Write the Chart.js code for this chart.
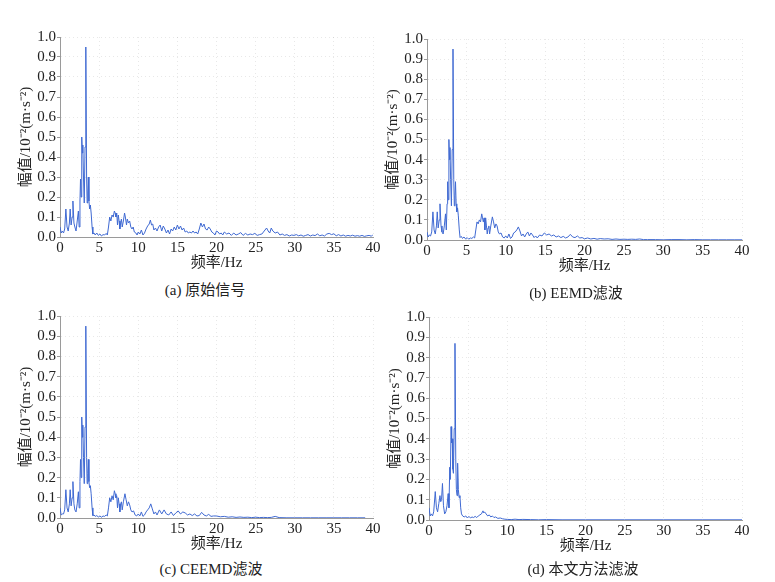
<!DOCTYPE html>
<html>
<head>
<meta charset="utf-8">
<script src="https://cdn.jsdelivr.net/npm/chart.js@4.4.1/dist/chart.umd.min.js"></script>
<style>
  html, body { margin: 0; padding: 0; background: #ffffff; }
  body { width: 775px; height: 582px; position: relative; overflow: hidden; }
  .box { position: absolute; }
  .cap { position: absolute; font-family: "Liberation Serif", "Noto Sans CJK SC", serif; font-size: 15px; color: #222; white-space: nowrap; transform: translate(-50%, -50%); }
</style>
</head>
<body>
<div class="box" id="boxA"><canvas id="cA"></canvas></div>
<div class="box" id="boxB"><canvas id="cB"></canvas></div>
<div class="box" id="boxC"><canvas id="cC"></canvas></div>
<div class="box" id="boxD"><canvas id="cD"></canvas></div>
<div class="cap" style="left:205px;top:288px;">(a) 原始信号</div>
<div class="cap" style="left:576px;top:291px;">(b) EEMD滤波</div>
<div class="cap" style="left:211px;top:567px;">(c) CEEMD滤波</div>
<div class="cap" style="left:583px;top:567px;">(d) 本文方法滤波</div>
<script>
// ---- tick labels / axis texts ----
const xTickValues = [0, 5, 10, 15, 20, 25, 30, 35, 40];
const yTickValues = [0.0, 0.1, 0.2, 0.3, 0.4, 0.5, 0.6, 0.7, 0.8, 0.9, 1.0];
const xAxisTitle = "频率/Hz";
const yAxisTitle = "幅值/10⁻²(m·s⁻²)";

// ---- (a) 原始信号 ----
const freqA = [0,0.15,0.3,0.45,0.6,0.75,0.9,1.05,1.2,1.3,1.42,1.55,1.65,1.78,1.9,2.05,2.2,2.35,2.45,2.55,2.62,2.7,2.78,2.86,2.92,3.0,3.1,3.2,3.3,3.4,3.47,3.55,3.62,3.7,3.78,3.88,3.98,4.1,4.2,4.35,4.5,4.7,4.9,5.1,5.3,5.5,5.7,5.9,6.05,6.2,6.35,6.5,6.65,6.8,6.95,7.05,7.15,7.25,7.35,7.45,7.55,7.65,7.75,7.85,7.95,8.1,8.25,8.35,8.5,8.6,8.75,8.9,9.05,9.2,9.35,9.5,9.7,9.85,10.0,10.2,10.4,10.6,10.8,11.0,11.2,11.4,11.55,11.7,11.85,12.0,12.2,12.4,12.6,12.8,13.0,13.2,13.4,13.6,13.8,14.0,14.2,14.4,14.6,14.8,15.0,15.2,15.4,15.6,15.8,16.0,16.2,16.4,16.6,16.8,17.0,17.2,17.4,17.6,17.8,18.0,18.2,18.4,18.6,18.8,19.0,19.2,19.4,19.6,19.8,20.0,20.2,20.4,20.6,20.8,21.0,21.3,21.6,21.9,22.2,22.5,22.8,23.1,23.4,23.7,24.0,24.3,24.6,24.9,25.2,25.5,25.8,26.1,26.4,26.6,26.8,27.0,27.2,27.5,27.8,28.1,28.4,28.7,29.0,29.3,29.6,29.9,30.2,30.5,30.8,31.1,31.4,31.7,32.0,32.3,32.6,32.9,33.2,33.5,33.8,34.1,34.4,34.7,35.0,35.3,35.6,35.9,36.2,36.5,36.8,37.1,37.4,37.7,38.0,38.3,38.6,38.9,39.2,39.5,39.8,40];
const ampA  = [0.05,0.02,0.03,0.02,0.04,0.14,0.05,0.03,0.07,0.14,0.06,0.10,0.18,0.07,0.05,0.03,0.08,0.13,0.05,0.18,0.29,0.20,0.50,0.42,0.46,0.30,0.17,0.45,0.95,0.30,0.17,0.22,0.30,0.18,0.14,0.16,0.12,0.05,0.015,0.02,0.01,0.02,0.008,0.015,0.005,0.012,0.01,0.018,0.01,0.05,0.10,0.08,0.11,0.10,0.13,0.12,0.10,0.12,0.06,0.11,0.08,0.04,0.07,0.09,0.05,0.08,0.12,0.10,0.06,0.09,0.07,0.08,0.05,0.04,0.05,0.025,0.02,0.01,0.025,0.015,0.035,0.01,0.02,0.04,0.055,0.065,0.085,0.06,0.065,0.035,0.045,0.03,0.05,0.06,0.03,0.055,0.04,0.02,0.035,0.015,0.04,0.03,0.05,0.035,0.06,0.04,0.055,0.035,0.045,0.025,0.03,0.02,0.025,0.02,0.03,0.02,0.025,0.015,0.04,0.07,0.05,0.065,0.04,0.035,0.05,0.04,0.025,0.02,0.01,0.03,0.025,0.015,0.02,0.01,0.025,0.015,0.02,0.008,0.02,0.01,0.015,0.022,0.008,0.018,0.01,0.015,0.012,0.018,0.008,0.012,0.015,0.03,0.045,0.03,0.02,0.045,0.03,0.02,0.025,0.01,0.015,0.008,0.012,0.005,0.01,0.008,0.012,0.006,0.01,0.004,0.008,0.012,0.005,0.01,0.007,0.015,0.006,0.01,0.005,0.015,0.018,0.012,0.016,0.006,0.012,0.005,0.01,0.004,0.008,0.005,0.009,0.004,0.007,0.004,0.008,0.003,0.006,0.008,0.004,0.012];

// ---- (b) EEMD滤波 ----
const freqB = [0,0.15,0.3,0.45,0.6,0.75,0.9,1.05,1.2,1.3,1.42,1.55,1.65,1.78,1.9,2.05,2.2,2.35,2.45,2.55,2.62,2.7,2.78,2.86,2.92,3.0,3.1,3.2,3.3,3.4,3.47,3.55,3.62,3.7,3.78,3.88,3.98,4.1,4.2,4.35,4.5,4.7,4.9,5.1,5.3,5.5,5.7,5.9,6.05,6.2,6.35,6.5,6.65,6.8,6.95,7.05,7.15,7.25,7.35,7.45,7.55,7.65,7.75,7.85,7.95,8.1,8.3,8.45,8.6,8.75,8.9,9.05,9.2,9.4,9.6,9.8,10.0,10.2,10.4,10.6,10.8,11.0,11.2,11.4,11.6,11.8,12.0,12.2,12.4,12.6,12.8,13.0,13.2,13.4,13.6,13.8,14.0,14.3,14.6,14.9,15.2,15.5,15.8,16.1,16.4,16.7,17.0,17.3,17.6,17.9,18.2,18.5,18.8,19.1,19.4,19.7,20.0,20.4,20.8,21.2,21.6,22.0,22.5,23.0,23.5,24.0,24.5,25.0,25.5,26.0,26.5,27.0,27.5,28.0,29.0,30.0,31.0,32.0,33.0,34.0,35.0,36.0,37.0,38.0,39.0,40];
const ampB  = [0.04,0.015,0.025,0.02,0.04,0.14,0.05,0.03,0.07,0.14,0.06,0.10,0.18,0.07,0.04,0.03,0.07,0.13,0.05,0.18,0.29,0.20,0.50,0.40,0.46,0.30,0.17,0.45,0.95,0.30,0.17,0.22,0.29,0.18,0.14,0.16,0.12,0.05,0.012,0.018,0.008,0.015,0.005,0.012,0.004,0.01,0.008,0.015,0.01,0.05,0.09,0.08,0.10,0.09,0.13,0.11,0.09,0.11,0.05,0.11,0.07,0.03,0.06,0.07,0.03,0.07,0.115,0.09,0.06,0.08,0.07,0.04,0.03,0.035,0.015,0.01,0.02,0.01,0.03,0.008,0.015,0.035,0.04,0.05,0.065,0.045,0.02,0.03,0.015,0.03,0.04,0.02,0.035,0.025,0.012,0.02,0.01,0.025,0.02,0.035,0.025,0.03,0.02,0.025,0.015,0.02,0.012,0.018,0.01,0.015,0.028,0.015,0.012,0.02,0.01,0.012,0.006,0.01,0.005,0.008,0.004,0.007,0.005,0.006,0.003,0.005,0.003,0.004,0.003,0.004,0.003,0.005,0.002,0.002,0.002,0.001,0.002,0.002,0.001,0.002,0.001,0.001,0.001,0.001,0.001,0.001];

// ---- (c) CEEMD滤波 ----
const freqC = [0,0.15,0.3,0.45,0.6,0.75,0.9,1.05,1.2,1.3,1.42,1.55,1.65,1.78,1.9,2.05,2.2,2.35,2.45,2.55,2.62,2.7,2.78,2.86,2.92,3.0,3.1,3.2,3.3,3.4,3.47,3.55,3.62,3.7,3.78,3.88,3.98,4.1,4.2,4.35,4.5,4.7,4.9,5.1,5.3,5.5,5.7,5.9,6.05,6.2,6.35,6.5,6.65,6.8,6.95,7.05,7.15,7.25,7.35,7.45,7.55,7.65,7.75,7.85,7.95,8.1,8.3,8.45,8.6,8.75,8.9,9.05,9.2,9.4,9.6,9.8,10.0,10.2,10.4,10.6,10.8,11.0,11.2,11.4,11.6,11.8,12.0,12.2,12.4,12.7,13.0,13.3,13.6,13.9,14.2,14.5,14.8,15.1,15.4,15.7,16.0,16.3,16.6,16.9,17.2,17.5,17.8,18.1,18.4,18.7,19.0,19.3,19.6,20.0,20.5,21.0,21.5,22.0,22.5,23.0,23.5,24.0,24.5,25.0,25.5,26.0,26.5,27.0,27.5,28.0,29.0,30.0,31.0,32.0,33.0,34.0,35.0,36.0,37.0,38.0,39.0,40];
const ampC  = [0.05,0.015,0.02,0.02,0.04,0.14,0.05,0.03,0.07,0.14,0.06,0.10,0.18,0.07,0.04,0.03,0.07,0.13,0.05,0.18,0.29,0.20,0.50,0.40,0.46,0.30,0.17,0.45,0.95,0.30,0.17,0.22,0.29,0.18,0.15,0.16,0.12,0.05,0.012,0.015,0.008,0.012,0.005,0.01,0.004,0.01,0.008,0.015,0.01,0.05,0.10,0.08,0.11,0.09,0.135,0.12,0.10,0.11,0.05,0.10,0.07,0.03,0.07,0.08,0.04,0.08,0.12,0.09,0.06,0.08,0.065,0.04,0.03,0.035,0.015,0.01,0.02,0.01,0.03,0.008,0.015,0.03,0.04,0.05,0.07,0.045,0.02,0.03,0.015,0.04,0.02,0.04,0.02,0.015,0.03,0.012,0.025,0.035,0.02,0.03,0.025,0.015,0.02,0.012,0.02,0.01,0.012,0.028,0.015,0.01,0.018,0.008,0.01,0.01,0.006,0.008,0.004,0.006,0.003,0.005,0.003,0.004,0.002,0.004,0.002,0.003,0.002,0.003,0.008,0.002,0.001,0.001,0.001,0.001,0.001,0.001,0.001,0.001,0.001,0.001,0.001];

// ---- (d) 本文方法滤波 ----
const freqD = [0,0.15,0.3,0.45,0.6,0.8,0.95,1.1,1.25,1.4,1.5,1.6,1.72,1.85,2.0,2.15,2.3,2.45,2.55,2.65,2.72,2.82,2.9,2.97,3.05,3.12,3.22,3.32,3.42,3.5,3.58,3.66,3.75,3.85,3.95,4.05,4.15,4.3,4.5,4.7,4.9,5.1,5.3,5.5,5.7,5.9,6.1,6.3,6.5,6.7,6.9,7.0,7.1,7.3,7.5,7.7,7.9,8.1,8.3,8.5,8.8,9.1,9.4,9.7,10.0,10.5,11.0,11.5,12.0,13.0,14.0,15.0,17.0,20.0,25.0,30.0,35.0,40];
const ampD  = [0.06,0.02,0.03,0.02,0.04,0.14,0.06,0.04,0.08,0.12,0.09,0.10,0.18,0.07,0.03,0.04,0.07,0.13,0.06,0.26,0.20,0.46,0.38,0.40,0.25,0.23,0.45,0.87,0.30,0.15,0.12,0.28,0.15,0.11,0.12,0.06,0.03,0.02,0.015,0.02,0.01,0.018,0.01,0.015,0.012,0.018,0.012,0.02,0.025,0.03,0.045,0.035,0.04,0.03,0.02,0.025,0.015,0.02,0.012,0.015,0.008,0.01,0.006,0.004,0.003,0.002,0.004,0.002,0.003,0.002,0.001,0.002,0.001,0.001,0.001,0.001,0.001,0.001];

const LINE_COLOR = '#3f69d2';
const SERIF = '"Liberation Serif", "Noto Sans CJK SC", serif';

// plot rectangles (pixels)
function makePanel(boxId, canvasId, freq, amp, rect) {
  const Wy = 43, padTop = 10, padR = 17, Hx = 35;
  const box = document.getElementById(boxId);
  box.style.left = (rect.l - Wy) + 'px';
  box.style.top = (rect.t - padTop) + 'px';
  box.style.width = (Wy + (rect.r - rect.l) + padR) + 'px';
  box.style.height = (padTop + (rect.b - rect.t) + Hx) + 'px';
  const pts = freq.map((f, i) => ({ x: f, y: amp[i] }));
  new Chart(document.getElementById(canvasId), {
    type: 'line',
    data: { datasets: [{ data: pts, borderColor: LINE_COLOR, borderWidth: 1, pointRadius: 0, tension: 0, fill: false }] },
    options: {
      responsive: true, maintainAspectRatio: false, animation: false,
      layout: { padding: { top: padTop, right: padR, left: 0, bottom: 0 } },
      plugins: { legend: { display: false }, tooltip: { enabled: false } },
      scales: {
        x: {
          type: 'linear', min: 0, max: 40,
          afterBuildTicks: s => { s.ticks = xTickValues.map(v => ({ value: v })); },
          afterFit: s => { s.height = Hx; },
          ticks: { font: { family: SERIF, size: 15 }, color: '#222', padding: 0, maxRotation: 0, autoSkip: false, callback: v => String(v) },
          grid: { color: 'rgba(0,0,0,0.09)', tickLength: 2, tickColor: 'rgba(0,0,0,0)', tickBorderDash: [] },
          border: { color: '#9a9a9a', width: 1, dash: [1, 3] },
          title: { display: true, text: xAxisTitle, font: { family: SERIF, size: 15 }, color: '#222', padding: { top: 0, bottom: 0 } }
        },
        y: {
          type: 'linear', min: 0, max: 1,
          afterBuildTicks: s => { s.ticks = yTickValues.map(v => ({ value: v })); },
          afterFit: s => { s.width = Wy; },
          ticks: { font: { family: SERIF, size: 15 }, color: '#222', padding: 1, autoSkip: false, callback: v => Number(v).toFixed(1) },
          grid: { color: 'rgba(0,0,0,0.09)', tickLength: 3, tickColor: '#9a9a9a', tickBorderDash: [] },
          border: { color: '#9a9a9a', width: 1, dash: [1, 3] },
          title: { display: true, text: yAxisTitle, font: { family: SERIF, size: 15 }, color: '#222', padding: { top: 0, bottom: 0 } }
        }
      }
    }
  });
}

makePanel('boxA', 'cA', freqA, ampA, { l: 60, r: 373, t: 37, b: 237 });
makePanel('boxB', 'cB', freqB, ampB, { l: 427, r: 742, t: 39, b: 240 });
makePanel('boxC', 'cC', freqC, ampC, { l: 60, r: 373, t: 316, b: 518 });
makePanel('boxD', 'cD', freqD, ampD, { l: 429, r: 742, t: 317, b: 520 });
</script>
</body>
</html>
